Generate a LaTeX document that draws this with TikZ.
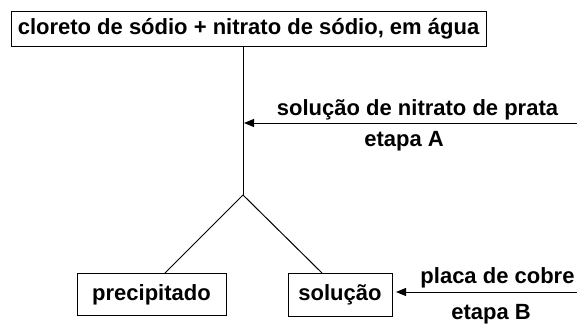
\documentclass[tikz,border=0pt]{standalone}
\usepackage{fontspec}
\setmainfont{Liberation Sans}
\usetikzlibrary{arrows.meta}
\begin{document}
\begin{tikzpicture}[x=1pt,y=-1pt,
  every node/.style={font=\fontsize{22}{26}\selectfont\bfseries, inner sep=0pt},
  box/.style={draw, line width=1pt, text height=16pt, text depth=4pt},
  conn/.style={line width=1pt},
  arr/.style={line width=1pt, -{Triangle[length=10pt,width=8pt]}},
  lbl/.style={anchor=base}]
\useasboundingbox (0,0) rectangle (577,324);
\node[box, minimum width=475pt, minimum height=35pt] (top) at (248.5,28.5) {cloreto de sódio + nitrato de sódio, em água};
\node[box, minimum width=149pt, minimum height=42pt] (prec) at (151.5,294) {precipitado};
\node[box, minimum width=104pt, minimum height=43pt] (sol) at (340,294.5) {solução};
\coordinate (junc) at (243,195);
\coordinate (ptop) at (165,273);
\coordinate (stop) at (322,273);
\coordinate (aStart) at (577,123);
\coordinate (aEnd) at (244,123);
\coordinate (bStart) at (577,292);
\coordinate (bEnd) at (396,292);
\draw[conn] (top.south -| junc) -- (junc);
\draw[conn] (junc) -- (ptop);
\draw[conn] (junc) -- (stop);
\draw[arr] (aStart) -- (aEnd);
\draw[arr] (bStart) -- (bEnd);
\node[lbl] (la) at (417.5,115) {solução de nitrato de prata};
\node[lbl] (ea) at (404,146.7) {etapa A};
\node[lbl] (lb) at (497.5,283) {placa de cobre};
\node[lbl] (eb) at (491,319) {etapa B};
\end{tikzpicture}
\end{document}
